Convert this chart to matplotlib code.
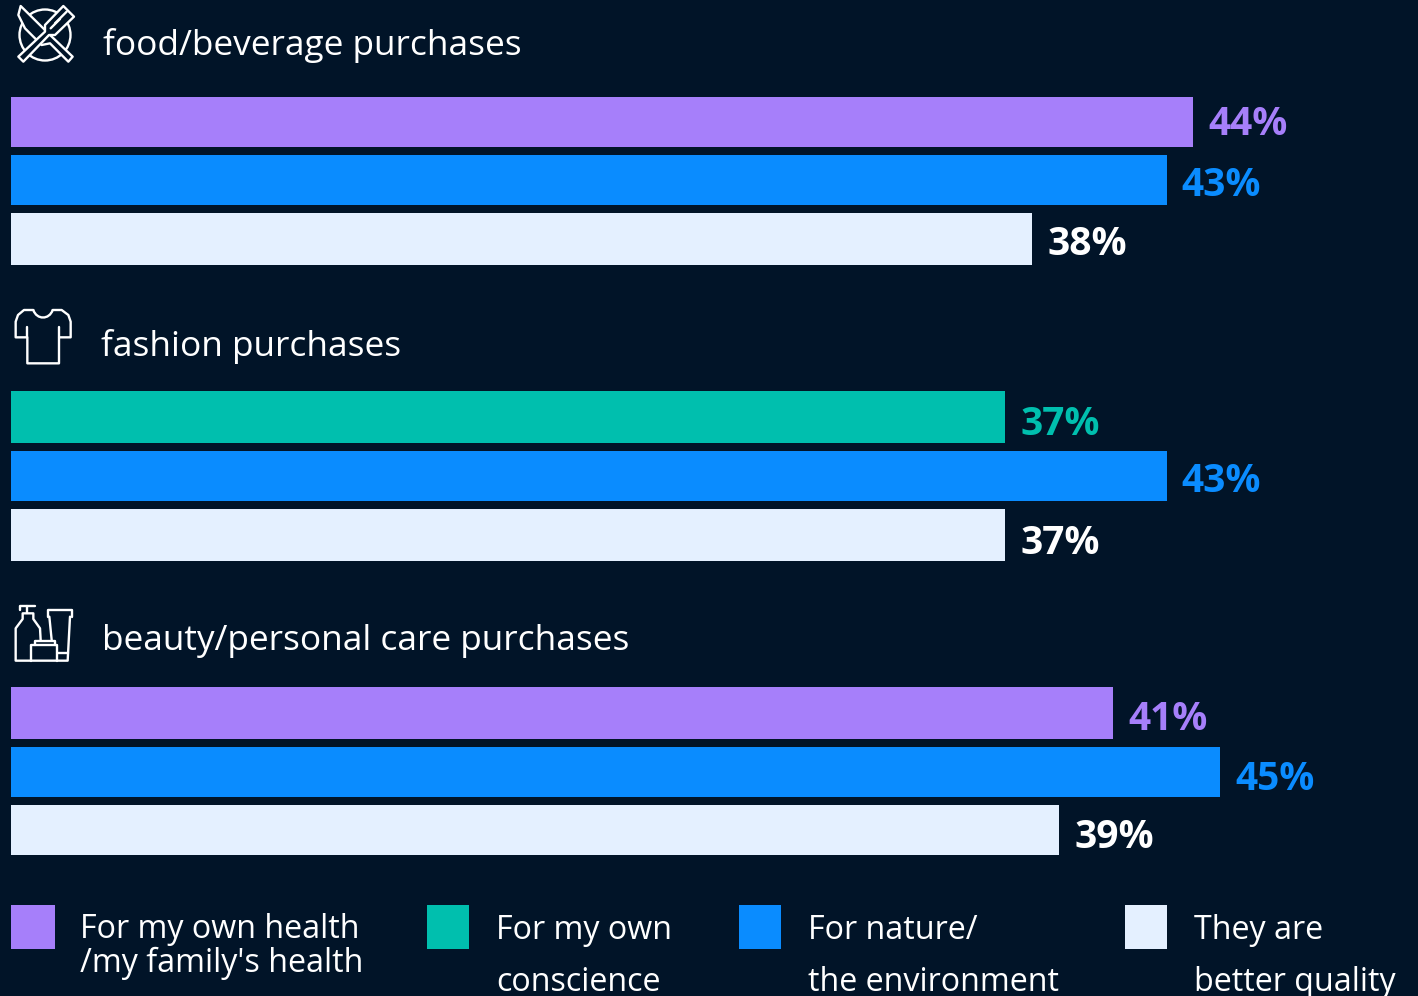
import matplotlib
matplotlib.use('Agg')
import matplotlib.pyplot as plt
from matplotlib.patches import Circle, Rectangle, Polygon, PathPatch
from matplotlib.path import Path

BG = '#011428'
PURPLE = '#a67ffa'
TEAL = '#00bfae'
BLUE = '#0a8cff'
PALE = '#e4f0ff'

food_values = [44, 43, 38]
food_colors = [PURPLE, BLUE, PALE]
fashion_values = [37, 43, 37]
fashion_colors = [TEAL, BLUE, PALE]
beauty_values = [41, 45, 39]
beauty_colors = [PURPLE, BLUE, PALE]
group_titles = ['food/beverage purchases', 'fashion purchases', 'beauty/personal care purchases']
legend_labels = ["For my own health\n/my family's health", 'For my own\nconscience',
                 'For nature/\nthe environment', 'They are\nbetter quality']
legend_colors = [PURPLE, TEAL, BLUE, PALE]

plt.rcParams['font.family'] = ['Open Sans', 'DejaVu Sans']

W, H = 1418, 996
PX_PER_PCT = 26.865
LEFT = 11.4

fig = plt.figure(figsize=(W / 100, H / 100), dpi=100, facecolor=BG)

# axes for the bars: x is percent, y is pixels from the top
ax = fig.add_axes([0, 0, 1, 1])
ax.set_xlim(-LEFT / PX_PER_PCT, (W - LEFT) / PX_PER_PCT)
ax.set_ylim(H, 0)
ax.axis('off')

# overlay in plain pixels for icons, titles and legend
ov = fig.add_axes([0, 0, 1, 1])
ov.set_xlim(0, W)
ov.set_ylim(H, 0)
ov.axis('off')
ov.patch.set_alpha(0)

groups = [
    (food_values, food_colors, [(97, 147), (155, 205), (213, 265)], [119.5, 180.5, 239.5]),
    (fashion_values, fashion_colors, [(391, 443), (451, 501), (509, 561)], [419.5, 476.5, 538.5]),
    (beauty_values, beauty_colors, [(687, 739), (747, 797), (805, 855)], [714.5, 774.5, 832.5]),
]
for values, colors, spans, label_y in groups:
    for v, c, (y0, y1), ly in zip(values, colors, spans, label_y):
        ax.barh((y0 + y1) / 2, v, height=y1 - y0, color=c, linewidth=0)
        ax.annotate(f'{v}%', (v, ly), xytext=(11, 0), textcoords='offset points',
                    color=c if c != PALE else '#ffffff', fontsize=28, fontweight='bold',
                    va='center_baseline', ha='left')

title_pos = [(103, 41), (101, 342), (102, 637)]
for t, (x, y) in zip(group_titles, title_pos):
    ov.text(x, y, t, color='#ffffff', fontsize=25.4, va='center_baseline', ha='left')

legend_x = [11, 427, 739, 1125]
legend_w = [44, 42, 42, 42]
legend_text_x = [80.5, 496.5, 807.5, 1194.5]
legend_fs = 23.2
for i, (lab, c) in enumerate(zip(legend_labels, legend_colors)):
    ov.add_patch(Rectangle((legend_x[i], 905), legend_w[i], 44, color=c, linewidth=0))
    a, b = lab.split('\n')
    if i == 0:
        ov.text(legend_text_x[i], 925, a, color='#ffffff', fontsize=legend_fs, va='center_baseline')
        ov.text(legend_text_x[i], 959, b, color='#ffffff', fontsize=legend_fs, va='center_baseline')
    else:
        ov.text(legend_text_x[i], 926, a, color='#ffffff', fontsize=legend_fs, va='center_baseline')
        ov.text(legend_text_x[i], 978, b, color='#ffffff', fontsize=legend_fs, va='center_baseline')


def stroke(points, ox, oy, closed=False, fill=False, lw=1.7):
    pts = [(ox + x / 3, oy + y / 3) for x, y in points]
    ov.add_patch(Polygon(pts, closed=closed, fill=fill, facecolor=BG, edgecolor='#ffffff',
                         linewidth=lw, joinstyle='round', capstyle='round'))


# plate, knife, fork
ov.add_patch(Circle((45, 35), 25.5, fill=False, edgecolor='#ffffff', linewidth=1.7))
stroke([(62, 18), (148, 103), (218, 170), (205, 185), (150, 130), (125, 135), (75, 85),
        (55, 45)], 0, 0, closed=True, fill=True)
stroke([(55, 170), (135, 95), (135, 75), (190, 18), (222, 50), (165, 105), (147, 105),
        (70, 185)], 0, 0, closed=True, fill=True)
stroke([(165, 70), (200, 35)], 0, 0)
stroke([(152, 85), (180, 57)], 0, 0)

# t-shirt
neck = Path([(100 / 3, 300 + 30 / 3), (110 / 3, 300 + 60 / 3), (148 / 3, 300 + 60 / 3), (158 / 3, 300 + 30 / 3)],
            [Path.MOVETO, Path.CURVE4, Path.CURVE4, Path.CURVE4])
ov.add_patch(PathPatch(neck, fill=False, edgecolor='#ffffff', linewidth=1.7))
stroke([(158, 30), (185, 30), (205, 45), (212, 65), (212, 112), (177, 112), (177, 190), (82, 190),
        (82, 112), (47, 112), (47, 65), (54, 45), (72, 30), (100, 30)], 0, 300)
stroke([(82, 112), (82, 80)], 0, 300)
stroke([(177, 112), (177, 80)], 0, 300)

# bottle, tube, box
stroke([(122, 135), (120, 100), (100, 72), (100, 55), (68, 55), (68, 72), (47, 100), (47, 197),
        (203, 197), (210, 65)], 0, 595)
stroke([(60, 45), (60, 32), (105, 32)], 0, 595)
stroke([(82, 32), (82, 55)], 0, 595)
stroke([(148, 65), (155, 135)], 0, 595)
stroke([(143, 65), (143, 45), (215, 45), (215, 65), (143, 65)], 0, 595)
stroke([(175, 175), (203, 175)], 0, 595)
stroke([(92, 197), (92, 150), (172, 150), (172, 197)], 0, 595)
stroke([(105, 150), (105, 138), (165, 138), (165, 150)], 0, 595)

fig.savefig('out.png', dpi=100, facecolor=BG)
